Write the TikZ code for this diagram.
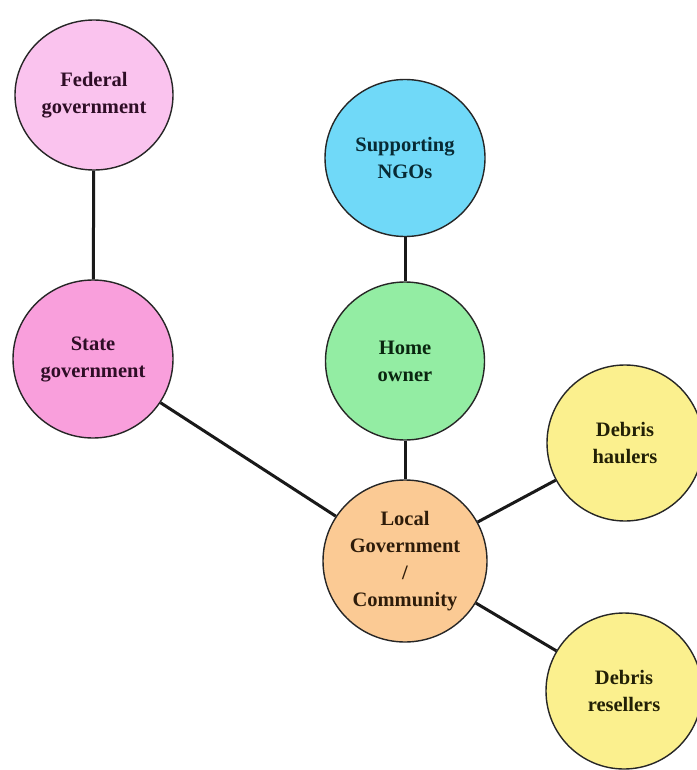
\documentclass[tikz,border=0pt]{standalone}
\usepackage{fontspec}
\setmainfont{Liberation Serif}
\usetikzlibrary{shapes.geometric}
\definecolor{fedfill}{HTML}{FAC3EE}
\definecolor{statefill}{HTML}{F99FDC}
\definecolor{ngofill}{HTML}{70D9F8}
\definecolor{homefill}{HTML}{93EDA3}
\definecolor{localfill}{HTML}{FBCA94}
\definecolor{debrisfill}{HTML}{FBF08E}
\definecolor{fedtext}{HTML}{2E0E26}
\definecolor{ngotext}{HTML}{082A34}
\definecolor{hometext}{HTML}{0A2610}
\definecolor{localtext}{HTML}{2E1C0A}
\definecolor{debristext}{HTML}{222006}
\tikzset{
  actor/.style={ellipse, draw=black!85, line width=1.4pt, align=center,
    font=\fontsize{20.5}{27}\selectfont\bfseries, inner sep=0pt},
  link/.style={line width=3pt, black!90}
}
\begin{document}
\begin{tikzpicture}[x=1pt, y=-1pt]
\useasboundingbox (0,0) rectangle (696,770);
\fill[white] (0,0) rectangle (696,770);
% actors
\node[actor, fill=fedfill, text=fedtext, minimum width=158pt, minimum height=150pt] (fed) at (94,95) {Federal\\government};
\node[actor, fill=statefill, text=fedtext, minimum width=160pt, minimum height=158pt] (state) at (93,359) {State\\government};
\node[actor, fill=ngofill, text=ngotext, minimum width=160pt, minimum height=157pt] (ngo) at (405,158) {Supporting\\NGOs};
\node[actor, fill=homefill, text=hometext, minimum width=159pt, minimum height=158pt] (home) at (405,361) {Home\\owner};
\node[actor, fill=localfill, text=localtext, minimum width=164pt, minimum height=162pt] (local) at (405,561) {Local\\Government\\/\\Community};
\node[actor, fill=debrisfill, text=debristext, minimum width=156pt, minimum height=156pt] (haul) at (625,443) {Debris\\haulers};
\node[actor, fill=debrisfill, text=debristext, minimum width=156pt, minimum height=156pt] (resell) at (624,691) {Debris\\resellers};
% links
\draw[link] (fed) -- (state);
\draw[link] (ngo) -- (home);
\draw[link] (home) -- (local);
\draw[link] (state) -- (local);
\draw[link] (local) -- (haul);
\draw[link] (local) -- (resell);
\end{tikzpicture}
\end{document}
